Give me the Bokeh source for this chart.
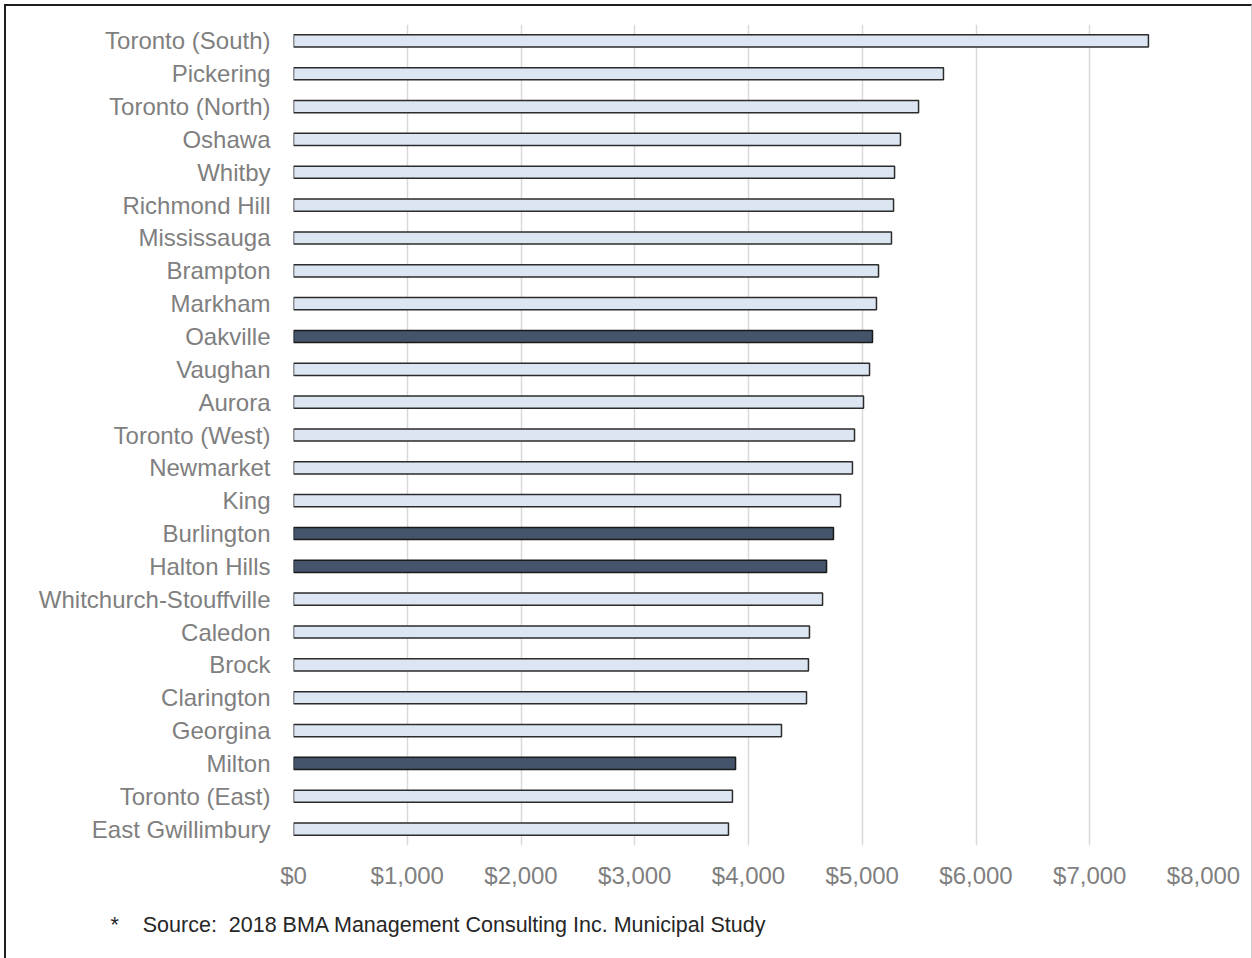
from bokeh.plotting import figure
from bokeh.layouts import column
from bokeh.models import ColumnDataSource, FactorRange, FixedTicker, NumeralTickFormatter, Title, Range1d
from bokeh.embed import file_html
from bokeh.resources import INLINE

municipalities = ["Toronto (South)", "Pickering", "Toronto (North)", "Oshawa", "Whitby",
                  "Richmond Hill", "Mississauga", "Brampton", "Markham", "Oakville",
                  "Vaughan", "Aurora", "Toronto (West)", "Newmarket", "King",
                  "Burlington", "Halton Hills", "Whitchurch-Stouffville", "Caledon", "Brock",
                  "Clarington", "Georgina", "Milton", "Toronto (East)", "East Gwillimbury"]
values = [7516, 5714, 5495, 5336, 5284,
          5275, 5257, 5143, 5125, 5090,
          5064, 5011, 4932, 4914, 4809,
          4747, 4686, 4651, 4536, 4527,
          4510, 4290, 3886, 3859, 3824]
halton = ["Oakville", "Burlington", "Halton Hills", "Milton"]
x_ticks = [0, 1000, 2000, 3000, 4000, 5000, 6000, 7000, 8000]
footnote = "*\u00a0\u00a0\u00a0\u00a0Source:\u00a0 2018 BMA Management Consulting Inc. Municipal Study"

fills = ["#44546a" if m in halton else "#dce6f2" for m in municipalities]
lines = ["#1a1a1a" if m in halton else "#2b2b2b" for m in municipalities]
src = ColumnDataSource(dict(name=municipalities, value=values, fill=fills, line=lines))

W, H = 1245, 952
p = figure(width=W, height=H, output_backend="svg", toolbar_location=None,
           y_range=FactorRange(factors=list(reversed(municipalities)), range_padding=0),
           x_range=Range1d(0, 8000),
           min_border_left=287, min_border_right=48, min_border_top=18, min_border_bottom=113)
p.y_range.factor_padding = 0
p.hbar(y="name", right="value", left=0, height=0.37, source=src,
       fill_color="fill", line_color="line", line_width=1.5)

p.outline_line_color = None
p.background_fill_color = "white"
p.border_fill_color = "white"
p.ygrid.grid_line_color = None
p.xgrid.grid_line_color = "#d9d9d9"
p.xgrid.grid_line_width = 1.5
p.xaxis.ticker = FixedTicker(ticks=x_ticks)
p.xaxis.formatter = NumeralTickFormatter(format="$0,0")

for ax in (p.xaxis[0], p.yaxis[0]):
    ax.axis_line_color = None
    ax.major_tick_line_color = None
    ax.minor_tick_line_color = None
    ax.major_label_text_color = "#7f7f7f"
    ax.major_label_text_font = "Liberation Sans"
    ax.major_label_text_font_size = "24px"
p.xaxis.major_label_standoff = 10
p.yaxis.major_label_standoff = 17

p.add_layout(Title(text=footnote, align="left", offset=-183, standoff=39,
                   vertical_align="bottom",
                   text_font="Liberation Sans", text_font_size="21.5px", text_color="#262626",
                   text_font_style="normal"), "below")

root = column(p, styles={"border-top": "2px solid #1e1e1e", "border-left": "2px solid #1e1e1e",
                         "border-right": "1px solid #d0d0d0", "margin": "4px 0 0 4px"})

open("out.html", "w").write(file_html(root, INLINE))
